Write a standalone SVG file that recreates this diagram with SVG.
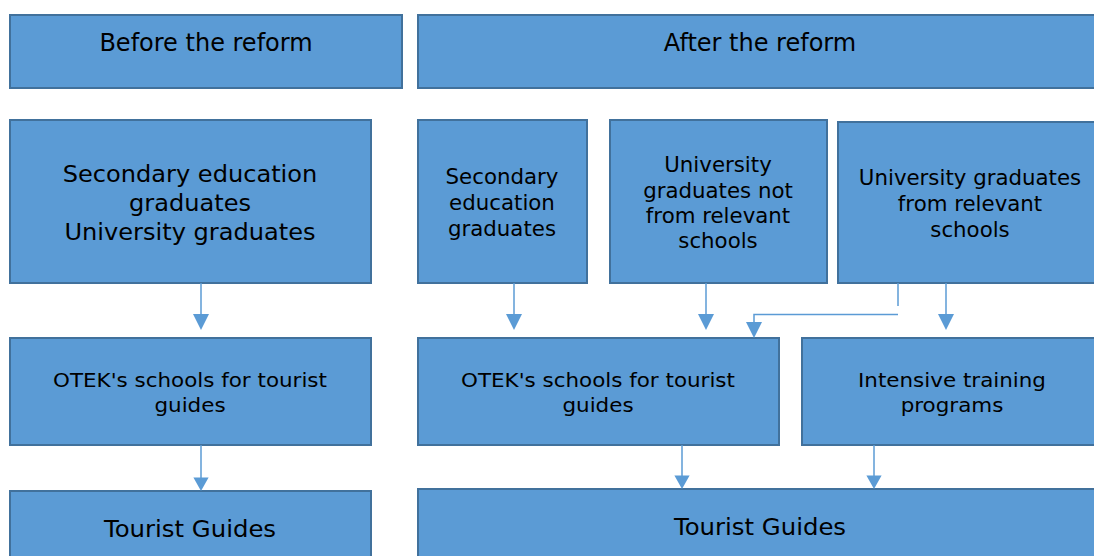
<svg xmlns="http://www.w3.org/2000/svg" width="1094" height="556" viewBox="0 0 1094 556">
<style>
.box{fill:#5B9BD5;stroke:#41719C;stroke-width:2}
text{font-family:"DejaVu Sans",Verdana,sans-serif;fill:#000;text-anchor:middle}
.h{font-size:24px}
.big{font-size:22.5px}
.mid{font-size:20.5px}
.sm{font-size:19.5px}
.tg{font-size:23px}
.c{fill:none;stroke:#5B9BD5;stroke-width:1.5}
</style>
<defs>
<path id="tri" d="M-8,-16 L8,-16 L0,0 Z" fill="#5B9BD5"/>
</defs>
<rect width="1094" height="556" fill="#fff"/>
<g id="before"><rect class="box" x="10" y="15" width="392" height="73"/><text class="h" x="206" y="51">Before the reform</text></g>
<g id="after"><rect class="box" x="418" y="15" width="680" height="73"/><text class="h" x="760" y="51">After the reform</text></g>
<g id="left-grads"><rect class="box" x="10" y="120" width="361" height="163"/><text class="big" transform="translate(190 0) scale(1.07 1)"><tspan x="0" y="182">Secondary education</tspan><tspan x="0" y="211">graduates</tspan><tspan x="0" y="240">University graduates</tspan></text></g>
<g id="secondary"><rect class="box" x="418" y="120" width="169" height="163"/><text class="mid" transform="translate(502 0) scale(1.04 1)"><tspan x="0" y="184">Secondary</tspan><tspan x="0" y="210">education</tspan><tspan x="0" y="236">graduates</tspan></text></g>
<g id="univ-not"><rect class="box" x="610" y="120" width="217" height="163"/><text class="mid" transform="translate(718 0) scale(1.04 1)"><tspan x="0" y="172">University</tspan><tspan x="0" y="198">graduates not</tspan><tspan x="0" y="223">from relevant</tspan><tspan x="0" y="248">schools</tspan></text></g>
<g id="univ-rel"><rect class="box" x="838" y="122" width="260" height="161"/><text class="mid" transform="translate(970 0) scale(1.04 1)"><tspan x="0" y="185">University graduates</tspan><tspan x="0" y="211">from relevant</tspan><tspan x="0" y="237">schools</tspan></text></g>
<g id="otek-left"><rect class="box" x="10" y="338" width="361" height="107"/><text class="sm" transform="translate(190 0) scale(1.1 1)"><tspan x="0" y="387">OTEK's schools for tourist</tspan><tspan x="0" y="412">guides</tspan></text></g>
<g id="otek-right"><rect class="box" x="418" y="338" width="361" height="107"/><text class="sm" transform="translate(598 0) scale(1.1 1)"><tspan x="0" y="387">OTEK's schools for tourist</tspan><tspan x="0" y="412">guides</tspan></text></g>
<g id="intensive"><rect class="box" x="802" y="338" width="296" height="107"/><text class="sm" transform="translate(952 0) scale(1.1 1)"><tspan x="0" y="387">Intensive training</tspan><tspan x="0" y="412">programs</tspan></text></g>
<g id="tourist-left"><rect class="box" x="10" y="491" width="361" height="70"/><text class="tg" transform="translate(190 0) scale(1.06 1)" x="0" y="537">Tourist Guides</text></g>
<g id="tourist-right"><rect class="box" x="418" y="489" width="680" height="72"/><text class="tg" transform="translate(760 0) scale(1.06 1)" x="0" y="535">Tourist Guides</text></g>
<g id="connectors">
<path class="c" d="M201,283 V316"/><use href="#tri" x="201" y="330"/>
<path class="c" d="M201,445 V478"/><use href="#tri" transform="translate(201 491) scale(0.95 0.85)"/>
<path class="c" d="M514,283 V316"/><use href="#tri" x="514" y="330"/>
<path class="c" d="M706,283 V316"/><use href="#tri" x="706" y="330"/>
<path class="c" d="M946,283 V316"/><use href="#tri" x="946" y="330"/>
<path class="c" d="M898,283 V306"/>
<path class="c" d="M898,314.5 H754 V324"/><use href="#tri" x="754" y="338"/>
<path class="c" d="M682,445 V477"/><use href="#tri" transform="translate(682 489) scale(0.95 0.85)"/>
<path class="c" d="M874,445 V477"/><use href="#tri" transform="translate(874 489) scale(0.95 0.85)"/>
</g>
</svg>
